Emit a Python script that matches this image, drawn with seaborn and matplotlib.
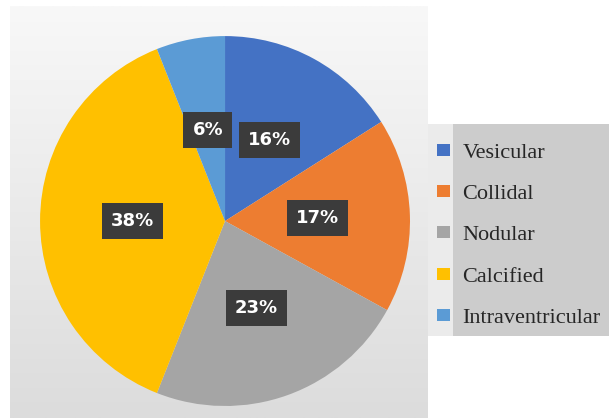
import numpy as np
import matplotlib
matplotlib.use("Agg")
import matplotlib.pyplot as plt
import seaborn as sns
from matplotlib.patches import Patch, Rectangle

# data
types = ["Vesicular", "Collidal", "Nodular", "Calcified", "Intraventricular"]
shares = [16, 17, 23, 38, 6]
colors = ["#4472C4", "#ED7D31", "#A5A5A5", "#FFC000", "#5B9BD5"]

sns.set_theme(style="white")

fig = plt.figure(figsize=(6.09, 4.18), dpi=100)
fig.patch.set_facecolor("white")

# light gray chart area with a soft vertical gradient
bg = fig.add_axes([10/609, 0, 418/609, 1 - 6/418])
grad = np.linspace(0, 1, 256).reshape(-1, 1)
bg.imshow(grad, aspect="auto", cmap=sns.blend_palette(["#f8f8f8", "#dcdcdc"], as_cmap=True),
          extent=[0, 1, 0, 1], origin="upper")
bg.set_axis_off()

ax = fig.add_axes([0.0657, 0.0287, 0.6076, 0.885])
wedges, texts, autotexts = ax.pie(
    shares, colors=colors, startangle=90, counterclock=False,
    autopct="%d%%", pctdistance=0.5, radius=1,
    wedgeprops=dict(linewidth=0),
)
for t in autotexts:
    t.set_color("white")
    t.set_fontweight("bold")
    t.set_fontsize(13)
    t.set_bbox(dict(facecolor="#3b3b3b", edgecolor="none", boxstyle="square,pad=0.5"))
ax.set_xlim(-1, 1)
ax.set_ylim(-1, 1)
ax.set_axis_off()

# legend panel
fig.patches.append(Rectangle((428/609, 1 - 336/418), 181/609, 212/418,
                             transform=fig.transFigure, facecolor="#cccccc",
                             edgecolor="none", zorder=0))
fig.patches.append(Rectangle((428/609, 1 - 336/418), 25/609, 212/418,
                             transform=fig.transFigure, facecolor="#ebebeb",
                             edgecolor="none", zorder=0))

handles = [Patch(facecolor=c, edgecolor="none") for c in colors]
leg = fig.legend(handles, types, loc="upper left",
                 bbox_to_anchor=(428/609, 1 - 135/418), frameon=False,
                 prop=dict(family="Liberation Serif", size=16),
                 handlelength=0.6, handleheight=0.45, handletextpad=0.55,
                 labelspacing=1.0, borderaxespad=0, borderpad=0.4)

fig.savefig("out.png", dpi=100)
